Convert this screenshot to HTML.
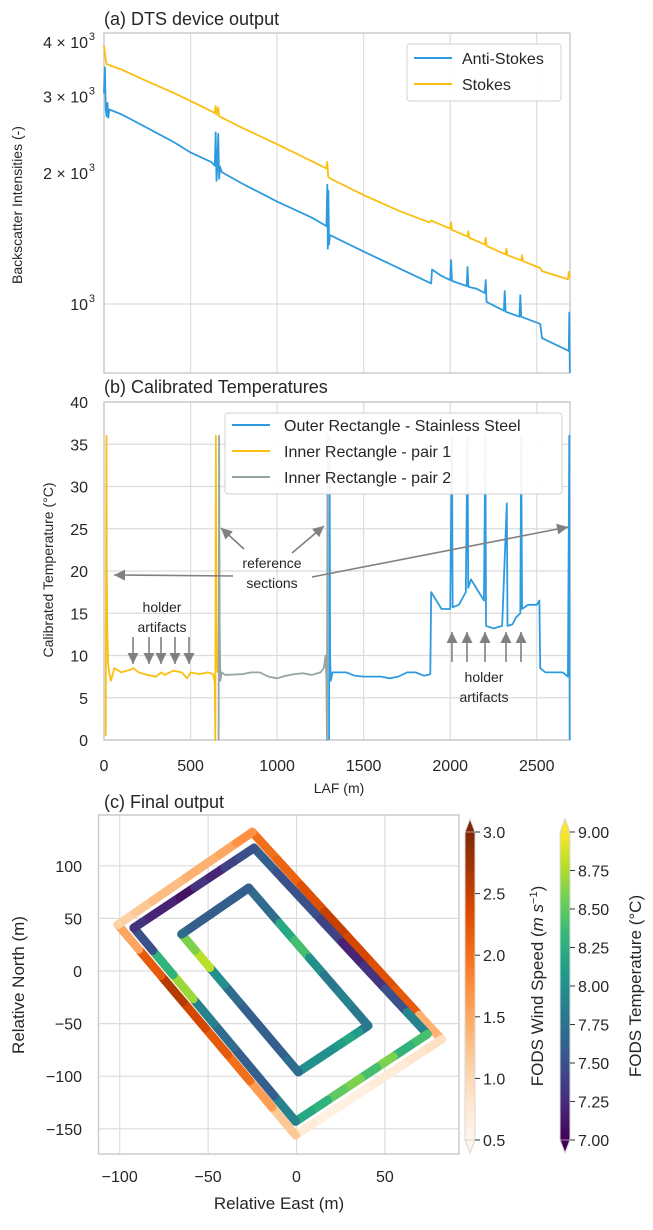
<!DOCTYPE html>
<html><head><meta charset="utf-8">
<style>
html,body{margin:0;padding:0;background:#fff;}
svg text{font-family:"Liberation Sans",Arial,sans-serif;fill:#262626;}
</style></head>
<body>
<svg id="fig" width="653" height="1225" viewBox="0 0 653 1225" xmlns="http://www.w3.org/2000/svg">
<defs>
<linearGradient id="gOr" x1="0" y1="1" x2="0" y2="0">
<stop offset="0" stop-color="#fff5eb"/><stop offset="0.125" stop-color="#fee6ce"/><stop offset="0.25" stop-color="#fdd0a2"/><stop offset="0.375" stop-color="#fdae6b"/><stop offset="0.5" stop-color="#fd8d3c"/><stop offset="0.625" stop-color="#f16913"/><stop offset="0.75" stop-color="#d94801"/><stop offset="0.875" stop-color="#a63603"/><stop offset="1" stop-color="#7f2704"/>
</linearGradient>
<linearGradient id="gVi" x1="0" y1="1" x2="0" y2="0">
<stop offset="0" stop-color="#440154"/><stop offset="0.111" stop-color="#482878"/><stop offset="0.222" stop-color="#3e4989"/><stop offset="0.333" stop-color="#31688e"/><stop offset="0.444" stop-color="#26828e"/><stop offset="0.556" stop-color="#1f9e89"/><stop offset="0.667" stop-color="#35b779"/><stop offset="0.778" stop-color="#6ece58"/><stop offset="0.889" stop-color="#b5de2b"/><stop offset="1" stop-color="#fde725"/>
</linearGradient>
</defs>
</svg>
<script>
// ---------- DATA ----------
const lafTicks = [0, 500, 1000, 1500, 2000, 2500];
const aYTicks = [1000, 2000, 3000, 4000];
const aYTickMant = ['', '2', '3', '4'];
const stokesLaf = [0,8,15,100,250,400,500,600,640,645,650,660,665,800,1000,1200,1285,1290,1295,1310,1500,1700,1880,1890,2000,2005,2010,2100,2105,2110,2200,2205,2210,2320,2325,2330,2410,2415,2420,2520,2530,2680,2685,2690];
const stokesVal = [3920,3700,3560,3460,3250,3060,2930,2800,2750,2850,2720,2830,2700,2540,2330,2130,2050,2120,1960,1940,1780,1640,1540,1555,1490,1540,1480,1430,1470,1420,1370,1420,1360,1300,1340,1295,1260,1295,1255,1210,1190,1140,1185,1150];
const antiLaf = [0,5,10,15,20,25,30,100,250,400,500,620,640,645,650,655,660,665,670,680,800,1000,1200,1285,1290,1293,1296,1300,1305,1500,1700,1890,1895,1950,2000,2005,2010,2095,2100,2105,2150,2200,2205,2210,2310,2315,2320,2400,2405,2410,2520,2530,2685,2688,2691];
const antiVal = [3050,3500,2800,2700,2900,2680,2800,2730,2540,2360,2230,2120,2080,2480,1920,2090,2460,1940,2070,2010,1890,1720,1580,1510,1880,1340,1820,1370,1440,1320,1210,1115,1200,1160,1135,1262,1130,1100,1216,1095,1085,1060,1135,1011,965,1071,960,935,1048,935,900,835,780,955,695];

const bYTicks = [0,5,10,15,20,25,30,35,40];
const p1Laf = [10,14,16,19,24,30,40,60,100,150,170,200,250,300,330,350,400,450,480,500,550,600,630,640,643,646,650,655];
const p1Val = [0.5,36,20,13,9,8,7,8.5,8,8.3,8.5,8,7.7,7.5,8,7.7,8.2,8,7.3,8,7.8,8,7.8,6.8,0,36,14,8];
const p2Laf = [662,665,668,672,680,700,800,850,900,950,1000,1050,1100,1150,1200,1250,1270,1280,1285,1288,1291];
const p2Val = [0,36,14,7,8,7.7,7.8,8,8,7.5,7.3,7.6,7.8,7.9,7.7,8,8.5,10,7,0,36];
const outLaf = [1300,1303,1306,1310,1320,1400,1450,1500,1600,1650,1700,1750,1800,1850,1885,1890,1920,1950,2000,2010,2014,2050,2090,2100,2104,2120,2150,2195,2203,2207,2250,2300,2327,2331,2360,2380,2405,2410,2415,2450,2500,2515,2520,2550,2600,2650,2680,2688,2690];
const outVal = [0,36,10,7,8,8,7.6,7.5,7.5,7.3,7.5,8,8,7.6,7.8,17.5,16.5,15.5,15.5,36,15.7,16,17.5,36,18,19,18,16.5,36,13.5,13.2,13.5,28,13.5,13.7,14.5,15,36,15.5,16,16,16.5,8.5,8,8,8,7.5,36,0];

const cXTicks = [-100,-50,0,50];
const cYTicks = [100,50,0,-50,-100,-150];
const outerE = [-25,82,-0.5,-101];
const outerN = [132,-65,-156,44];
const middleE = [-24,74,-0.5,-92];
const middleN = [117,-60,-143,41];
const innerE = [-27,40.5,1,-65];
const innerN = [79,-52,-96,35];
const windVals = [2.0,2.1,2.3,2.5,2.4,2.3,2.2,1.4, 0.9,0.8,0.7,0.7,0.6,0.6,0.6,0.7, 1.2,1.6,2.0,2.2,2.4,2.6,2.2,1.5, 1.1,1.2,1.3,1.3,1.4,1.4,1.5,1.7];
const tempVals = [7.6,7.5,7.5,7.4,7.2,7.3,7.5,7.9, 8.4,8.3,8.6,8.4,8.6,8.5,8.3,8.2, 7.9,7.6,7.6,7.7,7.9,8.7,8.3,7.5, 7.3,7.2,7.2,7.1,7.3,7.2,7.4,7.5];
const innerVals = [7.7,7.7,8.2,8.4,8.0,7.8,7.9,7.8, 7.8,8.1,8.2,8.1,8.0,8.0,8.0,8.0, 7.7,7.6,7.6,7.6,7.7,8.0,8.8,8.6, 7.7,7.6,7.6,7.6,7.6,7.6,7.6,7.6];
const windTicks = [0.5,1.0,1.5,2.0,2.5,3.0];
const tempTicks = [7.00,7.25,7.50,7.75,8.00,8.25,8.50,8.75,9.00];

// ---------- HELPERS ----------
const svg = document.getElementById('fig');
const NS = 'http://www.w3.org/2000/svg';
function mk(tag, attrs, parent){const e=document.createElementNS(NS,tag);for(const k in attrs)e.setAttribute(k,attrs[k]);(parent||svg).appendChild(e);return e;}
function txt(s,x,y,size,anchor,parent){const t=mk('text',{x:x,y:y,'font-size':size,'text-anchor':anchor||'start'},parent);t.textContent=s;return t;}

const X0=104, X1=570, LMAX=2692;
const xL = v => X0 + v/LMAX*(X1-X0);
const aTop=33, aBot=373;
const yA = v => 304 - Math.log10(v/1000)*435;
const bTop=402, bBot=740;
const yB = v => bBot - v*(bBot-bTop)/40;
const cL=98.5, cR=459, cT=815, cB=1154;
const xC = v => 296.5 + v*1.768;
const yC = v => 971 - v*1.052;

// ---------- PANEL A ----------
let g = mk('g',{});


lafTicks.forEach(t=>{ if(t>0){const l=mk('line',{x1:xL(t),x2:xL(t),y1:aTop,y2:aBot,stroke:'#dcdcdc','stroke-width':1.2},g);  }});
aYTicks.forEach((t,i)=>{
  const y=yA(t);
  if(i==0){const l=mk('line',{x1:X0,x2:X1,y1:y,y2:y,stroke:'#dcdcdc','stroke-width':1.2},g);  }
  const t1=mk('text',{x:88,y:y+6,'font-size':16,'text-anchor':'end'},g);
  
  
  t1.textContent=(aYTickMant[i]?aYTickMant[i]+' \u00d7 ':'')+'10';
  const sup=mk('tspan',{x:95,y:y-2,'font-size':11,'text-anchor':'end'},t1); sup.textContent='3';
});
mk('rect',{x:X0,y:aTop,width:X1-X0,height:aBot-aTop,fill:'none',stroke:'#cccccc','stroke-width':1.5},g);
function line(xs,ys,fx,fy,color,name,parent){
  const p=mk('polyline',{points:xs.map((x,i)=>fx(x)+','+fy(ys[i])).join(' '),fill:'none',stroke:color,'stroke-width':1.8,'stroke-linejoin':'round'},parent);
  
  
  return p;
}
line(stokesLaf,stokesVal,xL,yA,'#fbbf0f','stokes-line',g);
line(antiLaf,antiVal,xL,yA,'#2e9be0','anti-stokes-line',g);
let t=txt('(a) DTS device output',104,25,18,'start',g);
 
t=txt('Backscatter Intensities (-)',0,0,14,'middle',g);
t.setAttribute('transform','translate(22,205) rotate(-90)');
 
let lg=mk('g',{},g);
 
mk('rect',{x:407,y:44,width:154,height:57,rx:3,fill:'#fff','fill-opacity':0.9,stroke:'#d0d0d0','stroke-width':1},lg);
mk('line',{x1:414,x2:452,y1:58,y2:58,stroke:'#2e9be0','stroke-width':2},lg);
mk('line',{x1:414,x2:452,y1:84,y2:84,stroke:'#fbbf0f','stroke-width':2},lg);
t=txt('Anti-Stokes',462,64,16,'start',lg);  
t=txt('Stokes',462,90,16,'start',lg);  

// ---------- PANEL B ----------
g = mk('g',{});


lafTicks.forEach(v=>{
  const l=mk('line',{x1:xL(v),x2:xL(v),y1:bTop,y2:bBot,stroke:'#dcdcdc','stroke-width':1.2},g);
   
  const tt=txt(String(v),xL(v),771,16,'middle',g);
   
});
bYTicks.forEach(v=>{
  const l=mk('line',{x1:X0,x2:X1,y1:yB(v),y2:yB(v),stroke:'#dcdcdc','stroke-width':1.2},g);
   
  const tt=txt(String(v),88,yB(v)+6,16,'end',g);
   
});
mk('rect',{x:X0,y:bTop,width:X1-X0,height:bBot-bTop,fill:'none',stroke:'#cccccc','stroke-width':1.5},g);
line(p1Laf,p1Val,xL,yB,'#fbbf0f','inner-pair1-line',g);
line(p2Laf,p2Val,xL,yB,'#95a5a6','inner-pair2-line',g);
line(outLaf,outVal,xL,yB,'#2e9be0','outer-steel-line',g);
t=txt('(b) Calibrated Temperatures',104,393,18,'start',g);
 
t=txt('Calibrated Temperature (\u00b0C)',0,0,14,'middle',g);
t.setAttribute('transform','translate(53,570) rotate(-90)');
 
t=txt('LAF (m)',339,793,14,'middle',g);
 
lg=mk('g',{},g);
 
mk('rect',{x:225,y:413,width:337,height:81,rx:3,fill:'#fff','fill-opacity':0.92,stroke:'#d0d0d0','stroke-width':1},lg);
[['#2e9be0','Outer Rectangle - Stainless Steel'],['#fbbf0f','Inner Rectangle - pair 1'],['#95a5a6','Inner Rectangle - pair 2']].forEach((e,i)=>{
  const y=425+i*26;
  mk('line',{x1:232,x2:270,y1:y,y2:y,stroke:e[0],'stroke-width':2},lg);
  const tt=txt(e[1],284,y+6,16,'start',lg);
   
});
const ag=mk('g',{},g);
 
function arrow(x1,y1,x2,y2){
  mk('line',{x1:x1,y1:y1,x2:x2,y2:y2,stroke:'#808080','stroke-width':1.6},ag);
  const a=Math.atan2(y2-y1,x2-x1), L=11, W=5.5;
  const bx=x2-L*Math.cos(a), by=y2-L*Math.sin(a);
  mk('polygon',{points:`${x2},${y2} ${bx-W*Math.sin(a)},${by+W*Math.cos(a)} ${bx+W*Math.sin(a)},${by-W*Math.cos(a)}`,fill:'#808080'},ag);
}
arrow(233,576,114,575);
arrow(244,549,221,528);
arrow(292,553,324,526);
arrow(312,577,568,527);
[133,149,161,175,189].forEach(x=>arrow(x,637,x,664));
[452,467,485,506,521].forEach(x=>arrow(x,662,x,632));
t=txt('reference',272,568,14,'middle',ag); 
t=txt('sections',272,588,14,'middle',ag);
t=txt('holder',162,612,14,'middle',ag); 
t=txt('artifacts',162,632,14,'middle',ag);
t=txt('holder',484,682,14,'middle',ag); 
t=txt('artifacts',484,702,14,'middle',ag);

// ---------- PANEL C ----------
g = mk('g',{});


cXTicks.forEach(v=>{
  const l=mk('line',{x1:xC(v),x2:xC(v),y1:cT,y2:cB,stroke:'#dcdcdc','stroke-width':1.2},g);
   
  const tt=txt(String(v).replace('-','\u2212'),xC(v),1182,16,'middle',g);
   
});
cYTicks.forEach(v=>{
  const l=mk('line',{x1:cL,x2:cR,y1:yC(v),y2:yC(v),stroke:'#dcdcdc','stroke-width':1.2},g);
   
  const tt=txt(String(v).replace('-','\u2212'),82,yC(v)+6,16,'end',g);
   
});
mk('rect',{x:cL,y:cT,width:cR-cL,height:cB-cT,fill:'none',stroke:'#cccccc','stroke-width':1.5},g);
const ORS=['#fff5eb','#fee6ce','#fdd0a2','#fdae6b','#fd8d3c','#f16913','#d94801','#a63603','#7f2704'];
const VIR=['#440154','#482878','#3e4989','#31688e','#26828e','#1f9e89','#35b779','#6ece58','#b5de2b','#fde725'];
function cmap(stops,f){f=Math.max(0,Math.min(1,f));const p=f*(stops.length-1),i=Math.min(stops.length-2,Math.floor(p)),r=p-i;
  const a=stops[i],b=stops[i+1];const h=(s,k)=>parseInt(s.substr(1+2*k,2),16);
  return 'rgb('+[0,1,2].map(k=>Math.round(h(a,k)+(h(b,k)-h(a,k))*r)).join(',')+')';}
function ring(E,N,vals,vmin,vmax,stops,name){
  const rg=mk('g',{},g);
  
  
  const per=vals.length/4, sub=16;
  for(let e=0;e<4;e++){
    const x0=E[e],y0=N[e],x1=E[(e+1)%4],y1=N[(e+1)%4];
    const nS=per*sub;
    for(let s=0;s<=nS;s++){
      const f=s/nS, vi=Math.min(vals.length-1,e*per+Math.floor(f*per*0.9999));
      const c=cmap(stops,(vals[vi]-vmin)/(vmax-vmin));
      mk('circle',{cx:xC(x0+(x1-x0)*f),cy:yC(y0+(y1-y0)*f),r:4.2,fill:c,stroke:c,'stroke-width':0.5},rg);
    }
  }
}
ring(outerE,outerN,windVals,0.5,3.0,ORS,'outer-wind-ring');
ring(middleE,middleN,tempVals,7,9,VIR,'middle-temp-ring');
ring(innerE,innerN,innerVals,7,9,VIR,'inner-temp-ring');
t=txt('(c) Final output',104,808,18,'start',g);
 
t=txt('Relative North (m)',0,0,17,'middle',g);
t.setAttribute('transform','translate(24,985) rotate(-90)');
 
t=txt('Relative East (m)',279,1209,17,'middle',g);
 
function cbar(x,grad,ticks,vmin,vmax,label,lx,name,fmt){
  const cg=mk('g',{},g);
  
  
  const top=832,bot=1140,w=10;
  mk('rect',{x:x,y:top,width:w,height:bot-top,fill:'url(#'+grad+')'},cg);
  const stops = grad=='gOr'?ORS:VIR;
  mk('polygon',{points:`${x},${top} ${x+w/2},${top-13} ${x+w},${top}`,fill:stops[stops.length-1],stroke:'#ccc','stroke-width':0.8},cg);
  mk('polygon',{points:`${x},${bot} ${x+w/2},${bot+13} ${x+w},${bot}`,fill:stops[0],stroke:'#ccc','stroke-width':0.8},cg);
  mk('polyline',{points:`${x},${top} ${x+w/2},${top-13} ${x+w},${top} ${x+w},${bot} ${x+w/2},${bot+13} ${x},${bot} ${x},${top}`,fill:'none',stroke:'#d8d8d8','stroke-width':1},cg);
  ticks.forEach(v=>{
    const y=bot-(v-vmin)/(vmax-vmin)*(bot-top);
    mk('line',{x1:x+w,x2:x+w+5,y1:y,y2:y,stroke:'#333','stroke-width':1},cg);
    const tt=txt(fmt(v),x+w+8,y+6,16,'start',cg);
     
  });
  const lt=mk('text',{'font-size':17,'text-anchor':'middle',transform:`translate(${lx},986) rotate(-90)`},cg);
  lt.innerHTML=label;
  
  
}
cbar(465,'gOr',windTicks,0.5,3.0,'FODS Wind Speed (<tspan font-style="italic">m s</tspan><tspan dy="-6" font-size="11">\u22121</tspan><tspan dy="6">)</tspan>',543,'wind-colorbar',v=>v.toFixed(1));
cbar(560,'gVi',tempTicks,7,9,'FODS Temperature (\u00b0C)',641,'temp-colorbar',v=>v.toFixed(2));
</script>
</body></html>
